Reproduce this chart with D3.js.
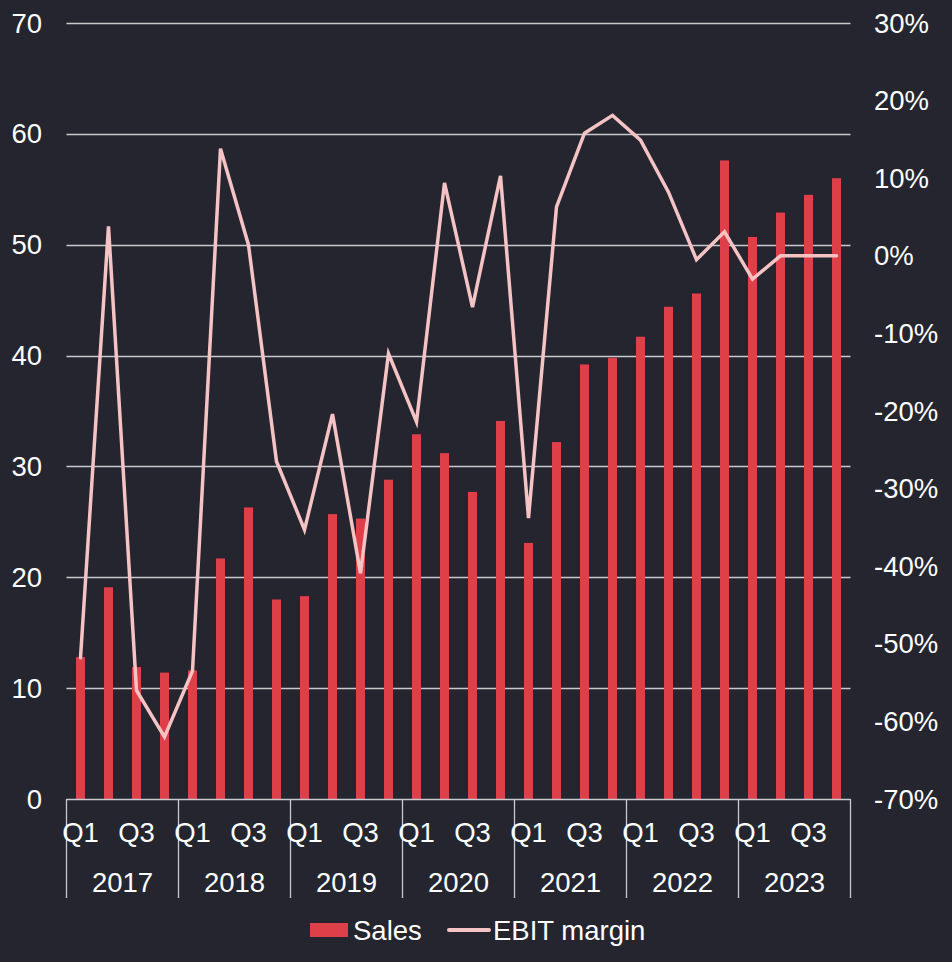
<!DOCTYPE html>
<html><head><meta charset="utf-8">
<script src="https://cdn.jsdelivr.net/npm/d3@7"></script>
<style>
html,body{margin:0;padding:0;background:#24252f;}
svg{display:block;}
text{font-family:"Liberation Sans",Arial,sans-serif;fill:#ffffff;}
</style></head>
<body>
<svg id="chart" width="952" height="962"></svg>
<script>
const years = ["2017","2018","2019","2020","2021","2022","2023"];
const quarters = ["Q1","Q2","Q3","Q4"];
const sales = [12.8,19.1,11.9,11.4, 11.6,21.7,26.3,18.0, 18.3,25.7,25.3,28.8, 32.9,31.2,27.7,34.1, 23.1,32.2,39.2,39.8, 41.7,44.4,45.6,57.6, 50.7,52.9,54.5,56.0];
const ebitMargin = [-51.8,3.8,-56.0,-62.0, -53.5,13.8,1.4,-26.5, -35.3,-20.4,-40.9,-12.6, -21.4,9.4,-6.6,10.3, -33.8,6.3,15.8,18.1, 14.9,8.2,-0.5,3.1, -3.0,0,0,0];
const leftTicks = [0,10,20,30,40,50,60,70];
const rightTicks = [-70,-60,-50,-40,-30,-20,-10,0,10,20,30];
const quarterLabels = ["Q1","Q3"];

const cats = [];
years.forEach(y => quarters.forEach(q => cats.push(y + "-" + q)));

const svg = d3.select("#chart");
const x0 = 66.5, x1 = 850.5, yTop = 23, yBot = 799;
const fs = 27.5;

const x = d3.scaleBand().domain(cats).range([x0, x1]).paddingInner(0).paddingOuter(0);
const yL = d3.scaleLinear().domain([0,70]).range([yBot, yTop]);
const yR = d3.scaleLinear().domain([-70,30]).range([yBot, yTop]);

// gridlines
svg.append("g").selectAll("line").data(leftTicks.filter(d=>d>0)).join("line")
  .attr("x1", x0).attr("x2", x1)
  .attr("y1", d => Math.round(yL(d))+0.5).attr("y2", d => Math.round(yL(d))+0.5)
  .attr("stroke", "#c9c9ce").attr("stroke-width", 1.3);

// bars
const bw = 9;
svg.append("g").selectAll("rect").data(sales).join("rect")
  .attr("x", (d,i) => x(cats[i]) + x.bandwidth()/2 - bw/2)
  .attr("width", bw)
  .attr("y", d => yL(d))
  .attr("height", d => yL(0) - yL(d))
  .attr("fill", "#df3f49");

// axis line
svg.append("line").attr("x1", x0).attr("x2", x1).attr("y1", yBot+0.5).attr("y2", yBot+0.5)
  .attr("stroke", "#c9c9ce").attr("stroke-width", 1.3);

// year separators
const sepX = years.map(y => x(y + "-Q1")).concat([x1]);
svg.append("g").selectAll("line").data(sepX).join("line")
  .attr("x1", d => d).attr("x2", d => d).attr("y1", yBot).attr("y2", 898)
  .attr("stroke", "#c9c9ce").attr("stroke-width", 1.3);

// left axis labels
svg.append("g").selectAll("text").data(leftTicks).join("text")
  .attr("x", 42).attr("y", d => yL(d)).attr("dy", "0.35em")
  .attr("text-anchor", "end").attr("font-size", fs).text(d => d);

// right axis labels
svg.append("g").selectAll("text").data(rightTicks).join("text")
  .attr("x", 874).attr("y", d => yR(d)).attr("dy", "0.35em")
  .attr("text-anchor", "start").attr("font-size", fs).text(d => d + "%");

// quarter labels
const qItems = [];
years.forEach(y => quarterLabels.forEach(q => qItems.push({y, q})));
svg.append("g").selectAll("text").data(qItems).join("text")
  .attr("x", d => x(d.y + "-" + d.q) + x.bandwidth()/2)
  .attr("y", 832).attr("dy", "0.35em").attr("text-anchor", "middle")
  .attr("font-size", fs).text(d => d.q);

// year labels
svg.append("g").selectAll("text").data(years).join("text")
  .attr("x", d => (x(d + "-Q1") + x(d + "-Q4") + x.bandwidth())/2)
  .attr("y", 882).attr("dy", "0.35em").attr("text-anchor", "middle")
  .attr("font-size", fs).text(d => d);

// line
const line = d3.line().x((d,i) => x(cats[i]) + x.bandwidth()/2).y(d => yR(d));
svg.append("path").datum(ebitMargin)
  .attr("d", line).attr("fill", "none")
  .attr("stroke", "#f5c3c4").attr("stroke-width", 3.5)
  .attr("stroke-linejoin", "miter").attr("stroke-miterlimit", 4)
  .attr("stroke-linecap", "round");

// legend
const lg = svg.append("g");
lg.append("rect").attr("x", 310).attr("y", 923).attr("width", 38).attr("height", 14).attr("fill", "#df3f49");
lg.append("text").attr("x", 353).attr("y", 930).attr("dy", "0.35em").attr("font-size", fs).text("Sales");
lg.append("line").attr("x1", 449).attr("x2", 489).attr("y1", 930).attr("y2", 930)
  .attr("stroke", "#f5c3c4").attr("stroke-width", 4).attr("stroke-linecap", "round");
lg.append("text").attr("x", 493).attr("y", 930).attr("dy", "0.35em").attr("font-size", fs).text("EBIT margin");
</script>
</body></html>
